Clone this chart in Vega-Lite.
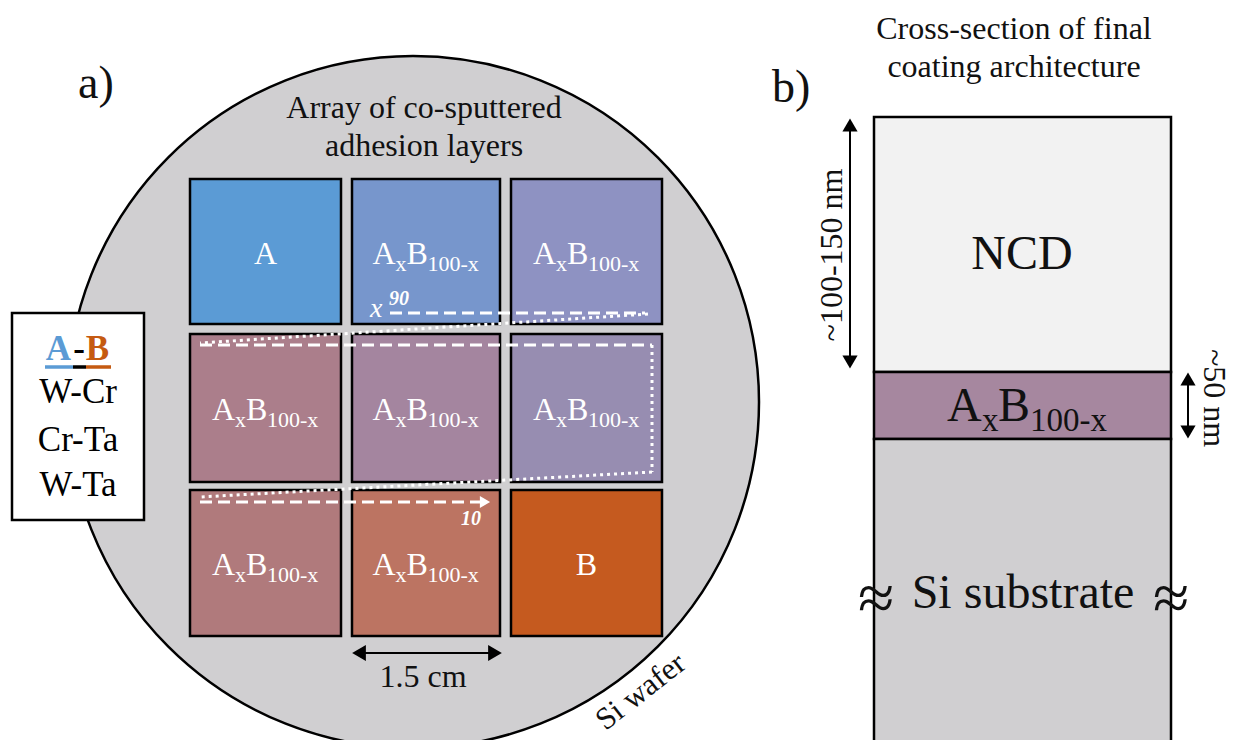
{
  "$schema": "https://vega.github.io/schema/vega-lite/v6.json",
  "width": 1234,
  "height": 740,
  "autosize": {"type": "none"},
  "padding": 0,
  "background": "white",
  "config": {"view": {"stroke": null}},
  "resolve": {"scale": {"color": "independent"}},
  "datasets": {
    "wafer": [{"x": 413, "y": 402}],
    "cells": [
      {"cell": "A", "x": 190, "x2": 341, "y": 179, "y2": 324},
      {"cell": "r1c2", "x": 352, "x2": 500, "y": 179, "y2": 324},
      {"cell": "r1c3", "x": 511, "x2": 662, "y": 179, "y2": 324},
      {"cell": "r2c1", "x": 190, "x2": 341, "y": 334, "y2": 482},
      {"cell": "r2c2", "x": 352, "x2": 500, "y": 334, "y2": 482},
      {"cell": "r2c3", "x": 511, "x2": 662, "y": 334, "y2": 482},
      {"cell": "r3c1", "x": 190, "x2": 341, "y": 490, "y2": 636},
      {"cell": "r3c2", "x": 352, "x2": 500, "y": 490, "y2": 636},
      {"cell": "B", "x": 511, "x2": 662, "y": 490, "y2": 636}
    ],
    "mix": [
      {"cell": "r1c2", "x": 372.5, "y": 264},
      {"cell": "r1c3", "x": 533, "y": 264},
      {"cell": "r2c1", "x": 212, "y": 420},
      {"cell": "r2c2", "x": 372.5, "y": 420},
      {"cell": "r2c3", "x": 533, "y": 420},
      {"cell": "r3c1", "x": 212, "y": 575},
      {"cell": "r3c2", "x": 372.5, "y": 575}
    ],
    "pure": [{"t": "A", "x": 265.5, "y": 264}, {"t": "B", "x": 586.5, "y": 575}],
    "dashes": [
      {"x": 390, "y": 313, "x2": 645, "y2": 313},
      {"x": 200, "y": 345, "x2": 652, "y2": 345},
      {"x": 200, "y": 502, "x2": 482, "y2": 502}
    ],
    "dots": [
      {"x": 648, "y": 314, "x2": 200, "y2": 343},
      {"x": 652, "y": 345, "x2": 652, "y2": 472},
      {"x": 652, "y": 472, "x2": 200, "y2": 497}
    ],
    "whitehead": [{"x": 485, "y": 502}],
    "stack": [
      {"layer": "NCD", "x": 874, "x2": 1171, "y": 117, "y2": 372},
      {"layer": "AxB", "x": 874, "x2": 1171, "y": 372, "y2": 439},
      {"layer": "Si", "x": 874, "x2": 1171, "y": 439, "y2": 760}
    ],
    "stacklabel": [{"x": 947, "y": 421}],
    "legendbox": [{"x": 12, "x2": 144, "y": 313, "y2": 520}],
    "underline": [
      {"part": "A", "x": 45, "x2": 73, "y": 367, "y2": 367},
      {"part": "-", "x": 73, "x2": 86, "y": 367, "y2": 367},
      {"part": "B", "x": 86, "x2": 111, "y": 367, "y2": 367}
    ],
    "legendhead": [
      {"part": "A", "t": "A", "x": 58.5, "y": 360},
      {"part": "-", "t": "-", "x": 79, "y": 360},
      {"part": "B", "t": "B", "x": 97.5, "y": 360}
    ],
    "legendrows": [
      {"t": "W-Cr", "x": 78, "y": 403},
      {"t": "Cr-Ta", "x": 78, "y": 451},
      {"t": "W-Ta", "x": 78, "y": 496}
    ],
    "titles": [
      {"t": "Array of co-sputtered", "x": 424, "y": 118},
      {"t": "adhesion layers", "x": 424, "y": 156},
      {"t": "Cross-section of final", "x": 1014, "y": 39},
      {"t": "coating architecture", "x": 1014, "y": 77},
      {"t": "1.5 cm", "x": 423, "y": 687}
    ],
    "big": [
      {"t": "NCD", "x": 1022, "y": 269},
      {"t": "Si substrate", "x": 1023, "y": 608}
    ],
    "panels": [{"t": "a)", "x": 78, "y": 98}, {"t": "b)", "x": 772, "y": 102}],
    "approx": [{"t": "≈", "x": 876, "y": 600}, {"t": "≈", "x": 1171, "y": 600}],
    "rot270": [{"t": "~100-150 nm", "x": 832, "y": 255}],
    "rot90": [{"t": "~50 nm", "x": 1214, "y": 398}],
    "rotwafer": [{"t": "Si wafer", "x": 641, "y": 692}],
    "xlab": [{"t": "x", "x": 370, "y": 317}],
    "sup90": [{"t": "90", "x": 389, "y": 305}],
    "lab10": [{"t": "10", "x": 471, "y": 525}],
    "shafts": [
      {"x": 850, "y": 126, "x2": 850, "y2": 362},
      {"x": 1188, "y": 380, "x2": 1188, "y2": 431},
      {"x": 360, "y": 653, "x2": 494, "y2": 653}
    ],
    "headsUp": [{"x": 850, "y": 125}, {"x": 1188, "y": 379}],
    "headsDown": [{"x": 850, "y": 362}, {"x": 1188, "y": 432}],
    "headsLeft": [{"x": 359, "y": 653}],
    "headsRight": [{"x": 495, "y": 653}]
  },
  "encoding": {
    "x": {"field": "x", "type": "quantitative", "scale": {"domain": [0, 1234], "nice": false, "zero": false}, "axis": null},
    "y": {"field": "y", "type": "quantitative", "scale": {"domain": [0, 740], "reverse": true, "nice": false, "zero": false}, "axis": null}
  },
  "layer": [
    {"data": {"name": "wafer"}, "mark": {"type": "point", "shape": "circle", "filled": true, "fill": "#d0cfd1", "fillOpacity": 1, "stroke": "#000000", "strokeWidth": 2.5, "opacity": 1, "size": 478864}},
    {"data": {"name": "cells"}, "mark": {"type": "rect", "stroke": "#000000", "strokeWidth": 2.5},
      "encoding": {"x2": {"field": "x2"}, "y2": {"field": "y2"},
        "color": {"field": "cell", "type": "nominal", "legend": null,
          "scale": {"domain": ["A", "r1c2", "r1c3", "r2c1", "r2c2", "r2c3", "r3c1", "r3c2", "B"],
                    "range": ["#5b9bd5", "#7796cc", "#8e92c2", "#ab7e8b", "#a4859f", "#978db1", "#b07a7c", "#bc7462", "#c55a1f"]}}}},
    {"data": {"name": "dashes"}, "mark": {"type": "rule", "color": "white", "strokeWidth": 3, "strokeDash": [12, 6]},
      "encoding": {"x2": {"field": "x2"}, "y2": {"field": "y2"}}},
    {"data": {"name": "dots"}, "mark": {"type": "rule", "color": "white", "strokeWidth": 3, "strokeDash": [3, 4]},
      "encoding": {"x2": {"field": "x2"}, "y2": {"field": "y2"}}},
    {"data": {"name": "whitehead"}, "mark": {"type": "point", "shape": "triangle-right", "filled": true, "color": "white", "opacity": 1, "size": 140}},
    {"data": {"name": "pure"}, "mark": {"type": "text", "font": "Liberation Serif", "fontSize": 32, "color": "white", "align": "center", "baseline": "alphabetic"},
      "encoding": {"text": {"field": "t"}}},
    {"data": {"name": "mix"}, "mark": {"type": "text", "font": "Liberation Serif", "fontSize": 32, "color": "white", "align": "left", "baseline": "alphabetic"},
      "encoding": {"text": {"value": "A"}}},
    {"data": {"name": "mix"}, "mark": {"type": "text", "font": "Liberation Serif", "fontSize": 22, "color": "white", "align": "left", "baseline": "alphabetic", "dx": 23, "dy": 7},
      "encoding": {"text": {"value": "x"}}},
    {"data": {"name": "mix"}, "mark": {"type": "text", "font": "Liberation Serif", "fontSize": 32, "color": "white", "align": "left", "baseline": "alphabetic", "dx": 34},
      "encoding": {"text": {"value": "B"}}},
    {"data": {"name": "mix"}, "mark": {"type": "text", "font": "Liberation Serif", "fontSize": 22, "color": "white", "align": "left", "baseline": "alphabetic", "dx": 55, "dy": 7},
      "encoding": {"text": {"value": "100-x"}}},
    {"data": {"name": "xlab"}, "mark": {"type": "text", "font": "Liberation Serif", "fontSize": 28, "fontStyle": "italic", "color": "white", "align": "left", "baseline": "alphabetic"},
      "encoding": {"text": {"field": "t"}}},
    {"data": {"name": "sup90"}, "mark": {"type": "text", "font": "Liberation Serif", "fontSize": 20, "fontStyle": "italic", "fontWeight": "bold", "color": "white", "align": "left", "baseline": "alphabetic"},
      "encoding": {"text": {"field": "t"}}},
    {"data": {"name": "lab10"}, "mark": {"type": "text", "font": "Liberation Serif", "fontSize": 20, "fontStyle": "italic", "fontWeight": "bold", "color": "white", "align": "center", "baseline": "alphabetic"},
      "encoding": {"text": {"field": "t"}}},
    {"data": {"name": "legendbox"}, "mark": {"type": "rect", "fill": "white", "stroke": "#000000", "strokeWidth": 2.5},
      "encoding": {"x2": {"field": "x2"}, "y2": {"field": "y2"}}},
    {"data": {"name": "underline"}, "mark": {"type": "rule", "strokeWidth": 3.5},
      "encoding": {"x2": {"field": "x2"}, "y2": {"field": "y2"},
        "color": {"field": "part", "type": "nominal", "legend": null, "scale": {"domain": ["A", "-", "B"], "range": ["#5b9bd5", "#000000", "#c55a11"]}}}},
    {"data": {"name": "legendhead"}, "mark": {"type": "text", "font": "Liberation Serif", "fontSize": 35, "fontWeight": "bold", "align": "center", "baseline": "alphabetic"},
      "encoding": {"text": {"field": "t"},
        "color": {"field": "part", "type": "nominal", "legend": null, "scale": {"domain": ["A", "-", "B"], "range": ["#5b9bd5", "#000000", "#c55a11"]}}}},
    {"data": {"name": "legendrows"}, "mark": {"type": "text", "font": "Liberation Serif", "fontSize": 35, "color": "#000000", "align": "center", "baseline": "alphabetic"},
      "encoding": {"text": {"field": "t"}}},
    {"data": {"name": "stack"}, "mark": {"type": "rect", "stroke": "#000000", "strokeWidth": 2.5},
      "encoding": {"x2": {"field": "x2"}, "y2": {"field": "y2"},
        "color": {"field": "layer", "type": "nominal", "legend": null, "scale": {"domain": ["NCD", "AxB", "Si"], "range": ["#f2f2f2", "#a6879f", "#d0cfd1"]}}}},
    {"data": {"name": "stacklabel"}, "mark": {"type": "text", "font": "Liberation Serif", "fontSize": 48, "color": "#111111", "align": "left", "baseline": "alphabetic"},
      "encoding": {"text": {"value": "A"}}},
    {"data": {"name": "stacklabel"}, "mark": {"type": "text", "font": "Liberation Serif", "fontSize": 33, "color": "#111111", "align": "left", "baseline": "alphabetic", "dx": 35, "dy": 10},
      "encoding": {"text": {"value": "x"}}},
    {"data": {"name": "stacklabel"}, "mark": {"type": "text", "font": "Liberation Serif", "fontSize": 48, "color": "#111111", "align": "left", "baseline": "alphabetic", "dx": 51},
      "encoding": {"text": {"value": "B"}}},
    {"data": {"name": "stacklabel"}, "mark": {"type": "text", "font": "Liberation Serif", "fontSize": 33, "color": "#111111", "align": "left", "baseline": "alphabetic", "dx": 83, "dy": 10},
      "encoding": {"text": {"value": "100-x"}}},
    {"data": {"name": "titles"}, "mark": {"type": "text", "font": "Liberation Serif", "fontSize": 32, "color": "#111111", "align": "center", "baseline": "alphabetic"},
      "encoding": {"text": {"field": "t"}}},
    {"data": {"name": "big"}, "mark": {"type": "text", "font": "Liberation Serif", "fontSize": 48, "color": "#111111", "align": "center", "baseline": "alphabetic"},
      "encoding": {"text": {"field": "t"}}},
    {"data": {"name": "panels"}, "mark": {"type": "text", "font": "Liberation Serif", "fontSize": 46, "color": "#111111", "align": "left", "baseline": "alphabetic"},
      "encoding": {"text": {"field": "t"}}},
    {"data": {"name": "approx"}, "mark": {"type": "text", "font": "Liberation Serif", "fontSize": 66, "color": "#111111", "align": "center", "baseline": "middle"},
      "encoding": {"text": {"field": "t"}}},
    {"data": {"name": "rot270"}, "mark": {"type": "text", "font": "Liberation Serif", "fontSize": 32, "color": "#111111", "align": "center", "baseline": "middle", "angle": 270},
      "encoding": {"text": {"field": "t"}}},
    {"data": {"name": "rot90"}, "mark": {"type": "text", "font": "Liberation Serif", "fontSize": 32, "color": "#111111", "align": "center", "baseline": "middle", "angle": 90},
      "encoding": {"text": {"field": "t"}}},
    {"data": {"name": "rotwafer"}, "mark": {"type": "text", "font": "Liberation Serif", "fontSize": 31, "color": "#111111", "align": "center", "baseline": "middle", "angle": 322},
      "encoding": {"text": {"field": "t"}}},
    {"data": {"name": "shafts"}, "mark": {"type": "rule", "color": "#000000", "strokeWidth": 2},
      "encoding": {"x2": {"field": "x2"}, "y2": {"field": "y2"}}},
    {"data": {"name": "headsUp"}, "mark": {"type": "point", "shape": "triangle-up", "filled": true, "color": "#000000", "opacity": 1, "size": 230}},
    {"data": {"name": "headsDown"}, "mark": {"type": "point", "shape": "triangle-down", "filled": true, "color": "#000000", "opacity": 1, "size": 230}},
    {"data": {"name": "headsLeft"}, "mark": {"type": "point", "shape": "triangle-left", "filled": true, "color": "#000000", "opacity": 1, "size": 250}},
    {"data": {"name": "headsRight"}, "mark": {"type": "point", "shape": "triangle-right", "filled": true, "color": "#000000", "opacity": 1, "size": 250}}
  ]
}
